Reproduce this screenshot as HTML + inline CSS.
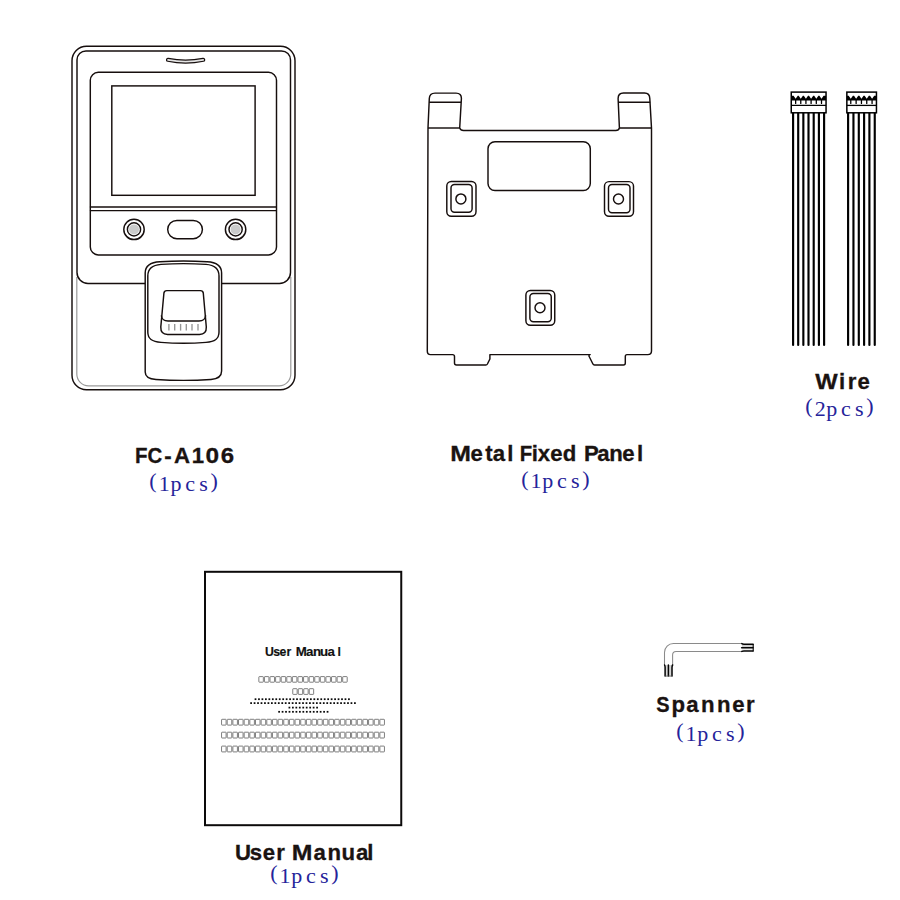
<!DOCTYPE html>
<html><head><meta charset="utf-8">
<style>
html,body{margin:0;padding:0;background:#fff;width:900px;height:900px;overflow:hidden}
svg{display:block}
.lbl{font-family:"Liberation Sans",sans-serif;font-weight:bold;font-size:22.2px;fill:#1a1311;stroke:#1a1311;stroke-width:0.3px;text-anchor:middle}
.qty{font-family:"Liberation Serif",serif;font-size:22px;fill:#25239a;text-anchor:middle}
</style></head><body>
<svg width="900" height="900" viewBox="0 0 900 900">
<rect x="0" y="0" width="900" height="900" fill="#fff"/>

<!-- ===== FC-A106 device ===== -->
<g fill="none" stroke="#160e0d" stroke-width="1.45">
  <rect x="72" y="46.2" width="223" height="343.6" rx="14.5"/>
  <path d="M76.8 277 V374 A11.8 11.8 0 0 0 88.6 385.9 H279 A11.8 11.8 0 0 0 290.8 374 V277" stroke="#9a9a9a" stroke-width="1.2"/>
  <path d="M145.2 283.5 H88 A11 11 0 0 1 77 272.5 V60 A9 9 0 0 1 86 50.9 H281.5 A9 9 0 0 1 290.5 60 V272.5 A11 11 0 0 1 279.5 283.5 H221.9"/>
  <path d="M168 59.8 Q185.5 63.4 203.2 59.8" stroke-width="4.2" stroke-linecap="round"/>
  <path d="M168 59.8 Q185.5 63.4 203.2 59.8" stroke="#e4e4e4" stroke-width="1.7" stroke-linecap="round"/>
  <rect x="90.3" y="72.3" width="186.2" height="182.6" rx="8"/>
  <rect x="111.8" y="85.9" width="143.3" height="109.4"/>
  <line x1="89.9" y1="207" x2="276.5" y2="207"/>
  <line x1="89.9" y1="210.6" x2="276.5" y2="210.6"/>
  <circle cx="134" cy="229.4" r="10.2"/>
  <circle cx="134" cy="229.4" r="6.6"/>
  <circle cx="134" cy="229.4" r="5" fill="#cacaca" stroke="none"/>
  <circle cx="235.6" cy="229.4" r="10.2"/>
  <circle cx="235.6" cy="229.4" r="6.6"/>
  <circle cx="235.6" cy="229.4" r="5" fill="#cacaca" stroke="none"/>
  <rect x="167.7" y="220.4" width="34.7" height="18.4" rx="9.2"/>
  <path d="M145.2 372 V273 C145.2 265 151 262.3 160 261.8 Q183.4 260.3 207 261.8 C216 262.3 221.6 265 221.6 273 V371 C221.6 376.5 218 379 211 379.5 Q183.4 381.2 156 379.5 C149 379 145.2 377 145.2 372 Z" fill="#fff"/>
  <path d="M147.8 332 V276 C147.8 268 153 265 161 264.4 Q183.4 262.8 206 264.4 C214 265 219 268 219 276 V332 C219 339 215 341.8 206 342.4 Q183.4 344.2 161 342.4 C152 341.8 147.8 339 147.8 332 Z"/>
  <path d="M166.8 290.6 H200.4 Q203 290.6 203.3 293.2 L206.3 327 Q206.6 334.4 199.5 334.4 H167.6 Q160.5 334.4 160.8 327 L163.9 293.2 Q164.2 290.6 166.8 290.6 Z"/>
  <path d="M161.3 315.5 Q162 321 168 321 H199 Q205 321 205.7 315.5"/>
  <g stroke="#959595" stroke-width="1.35">
    <line x1="168.9" y1="323.9" x2="168.9" y2="330.6"/>
    <line x1="174.7" y1="323.9" x2="174.7" y2="330.6"/>
    <line x1="180.6" y1="323.9" x2="180.6" y2="330.6"/>
    <line x1="186.3" y1="323.9" x2="186.3" y2="330.6"/>
    <line x1="192" y1="323.9" x2="192" y2="330.6"/>
    <line x1="198" y1="323.9" x2="198" y2="330.6"/>
  </g>
</g>

<!-- ===== Metal panel ===== -->
<g fill="none" stroke="#160e0d" stroke-width="1.45" stroke-linejoin="round">
  <path d="M428 128 L429.3 98.5 Q429.5 93.1 435 93.1 H456 Q461.5 93.1 461.4 98.5 L459.7 128 Q460.6 130.5 463.5 130.5 H615.8 Q618.8 130.5 619.4 128 L618.1 98.5 Q618.1 92.9 623.5 92.9 H644.5 Q649.7 92.9 649.8 98.5 L651.5 128 V351 Q651.4 354.6 647.8 354.6 H627 Q625.3 354.6 625.3 356.5 V363 Q625.3 364.9 623.5 364.9 H594.5 Q593.3 364.9 592.8 363.8 L588.9 356 Q589 354.6 590.2 354.6 H489.9 V359 L487.4 364 Q486.9 364.9 485.8 364.9 H456.5 Q454.5 364.9 454.5 363 V356.6 Q454.5 354.6 452.5 354.6 H430.5 Q427.3 354.6 427.3 351 Z"/>
  <line x1="429.1" y1="102.2" x2="461.1" y2="102.2"/>
  <line x1="428" y1="128" x2="459.7" y2="128"/>
  <line x1="618.3" y1="102.2" x2="650.2" y2="102.2"/>
  <line x1="619.4" y1="128" x2="651.5" y2="128"/>
  <rect x="488" y="141.8" width="102.3" height="48.7" rx="7"/>
  <rect x="446.8" y="181.5" width="29.2" height="34.75" rx="4.5"/>
  <rect x="451" y="184.4" width="21.1" height="27.9" rx="3.5"/>
  <circle cx="460.9" cy="198.9" r="5"/>
  <rect x="604.5" y="181.6" width="29" height="34.65" rx="4.5"/>
  <rect x="608.5" y="184.4" width="21.5" height="28.35" rx="3.5"/>
  <circle cx="618.5" cy="199" r="5"/>
  <rect x="525.9" y="290.5" width="28.85" height="34.75" rx="4.5"/>
  <rect x="529.9" y="293.4" width="21.35" height="28.35" rx="3.5"/>
  <circle cx="540" cy="307.8" r="5"/>
</g>

<!-- ===== Wires ===== -->
<!-- WIRES -->
<g stroke="#000" fill="none">
<line x1="793.1" y1="112" x2="793.1" y2="345" stroke-width="2.15" stroke-linecap="round"/>
<line x1="798.2" y1="112" x2="798.2" y2="345" stroke-width="2.15" stroke-linecap="round"/>
<line x1="803.35" y1="112" x2="803.35" y2="345" stroke-width="2.15" stroke-linecap="round"/>
<line x1="808.5" y1="112" x2="808.5" y2="345" stroke-width="2.15" stroke-linecap="round"/>
<line x1="813.7" y1="112" x2="813.7" y2="345" stroke-width="2.15" stroke-linecap="round"/>
<line x1="818.9" y1="112" x2="818.9" y2="345" stroke-width="2.15" stroke-linecap="round"/>
<line x1="824.1" y1="112" x2="824.1" y2="345" stroke-width="2.15" stroke-linecap="round"/>
<rect x="791.25" y="92.1" width="34.80" height="20.7" stroke-width="1.5" fill="#fff"/>
<polygon fill="#000" stroke="none" points="791.25,95.80 793.55,95.80 795.65,98.80 797.75,95.80 798.68,95.80 800.78,98.80 802.88,95.80 803.82,95.80 805.92,98.80 808.02,95.80 809.00,95.80 811.10,98.80 813.20,95.80 814.20,95.80 816.30,98.80 818.40,95.80 819.40,95.80 821.50,98.80 823.60,95.80 826.05,95.80 826.05,100.40 791.25,100.40"/>
<line x1="795.6500000000001" y1="99.8" x2="795.6500000000001" y2="103.4" stroke-width="1.3" stroke-linecap="round"/>
<line x1="800.7750000000001" y1="99.8" x2="800.7750000000001" y2="103.4" stroke-width="1.3" stroke-linecap="round"/>
<line x1="805.925" y1="99.8" x2="805.925" y2="103.4" stroke-width="1.3" stroke-linecap="round"/>
<line x1="811.1" y1="99.8" x2="811.1" y2="103.4" stroke-width="1.3" stroke-linecap="round"/>
<line x1="816.3" y1="99.8" x2="816.3" y2="103.4" stroke-width="1.3" stroke-linecap="round"/>
<line x1="821.5" y1="99.8" x2="821.5" y2="103.4" stroke-width="1.3" stroke-linecap="round"/>
<line x1="791.25" y1="105.4" x2="826.05" y2="105.4" stroke-width="1.3"/>
<line x1="848.1" y1="112" x2="848.1" y2="345" stroke-width="2.15" stroke-linecap="round"/>
<line x1="853.45" y1="112" x2="853.45" y2="345" stroke-width="2.15" stroke-linecap="round"/>
<line x1="858.8" y1="112" x2="858.8" y2="345" stroke-width="2.15" stroke-linecap="round"/>
<line x1="864.1" y1="112" x2="864.1" y2="345" stroke-width="2.15" stroke-linecap="round"/>
<line x1="869.4" y1="112" x2="869.4" y2="345" stroke-width="2.15" stroke-linecap="round"/>
<line x1="874.75" y1="112" x2="874.75" y2="345" stroke-width="2.15" stroke-linecap="round"/>
<rect x="846.85" y="92.1" width="29.60" height="20.7" stroke-width="1.5" fill="#fff"/>
<polygon fill="#000" stroke="none" points="846.85,95.80 848.68,95.80 850.78,98.80 852.88,95.80 854.02,95.80 856.12,98.80 858.23,95.80 859.35,95.80 861.45,98.80 863.55,95.80 864.65,95.80 866.75,98.80 868.85,95.80 869.98,95.80 872.08,98.80 874.18,95.80 876.45,95.80 876.45,100.40 846.85,100.40"/>
<line x1="850.7750000000001" y1="99.8" x2="850.7750000000001" y2="103.4" stroke-width="1.3" stroke-linecap="round"/>
<line x1="856.125" y1="99.8" x2="856.125" y2="103.4" stroke-width="1.3" stroke-linecap="round"/>
<line x1="861.45" y1="99.8" x2="861.45" y2="103.4" stroke-width="1.3" stroke-linecap="round"/>
<line x1="866.75" y1="99.8" x2="866.75" y2="103.4" stroke-width="1.3" stroke-linecap="round"/>
<line x1="872.075" y1="99.8" x2="872.075" y2="103.4" stroke-width="1.3" stroke-linecap="round"/>
<line x1="846.85" y1="105.4" x2="876.45" y2="105.4" stroke-width="1.3"/>
</g>
<!-- /WIRES -->

<!-- ===== Booklet ===== -->
<!-- BOOK -->
<rect x="205" y="571.8" width="196.25" height="253.4" fill="none" stroke="#0c0a0a" stroke-width="2"/>
<text transform="translate(269.4 655.6) scale(1.0 1)" text-anchor="middle" font-family="Liberation Sans" font-weight="bold" font-size="12.3" fill="#111" stroke="#111" stroke-width="0.15">U</text>
<text transform="translate(276.7 655.6) scale(1.0 1)" text-anchor="middle" font-family="Liberation Sans" font-weight="bold" font-size="12.3" fill="#111" stroke="#111" stroke-width="0.15">s</text>
<text transform="translate(283 655.6) scale(1.0 1)" text-anchor="middle" font-family="Liberation Sans" font-weight="bold" font-size="12.3" fill="#111" stroke="#111" stroke-width="0.15">e</text>
<text transform="translate(288.8 655.6) scale(1.0 1)" text-anchor="middle" font-family="Liberation Sans" font-weight="bold" font-size="12.3" fill="#111" stroke="#111" stroke-width="0.15">r</text>
<text transform="translate(301.2 655.6) scale(1.08 1)" text-anchor="middle" font-family="Liberation Sans" font-weight="bold" font-size="12.3" fill="#111" stroke="#111" stroke-width="0.15">M</text>
<text transform="translate(309.6 655.6) scale(1.08 1)" text-anchor="middle" font-family="Liberation Sans" font-weight="bold" font-size="12.3" fill="#111" stroke="#111" stroke-width="0.15">a</text>
<text transform="translate(317.1 655.6) scale(1.08 1)" text-anchor="middle" font-family="Liberation Sans" font-weight="bold" font-size="12.3" fill="#111" stroke="#111" stroke-width="0.15">n</text>
<text transform="translate(324.1 655.6) scale(1.08 1)" text-anchor="middle" font-family="Liberation Sans" font-weight="bold" font-size="12.3" fill="#111" stroke="#111" stroke-width="0.15">u</text>
<text transform="translate(331.1 655.6) scale(1.08 1)" text-anchor="middle" font-family="Liberation Sans" font-weight="bold" font-size="12.3" fill="#111" stroke="#111" stroke-width="0.15">a</text>
<text transform="translate(339.1 655.6) scale(1.0 1)" text-anchor="middle" font-family="Liberation Sans" font-weight="bold" font-size="12.3" fill="#111" stroke="#111" stroke-width="0.15">l</text>
<g fill="none" stroke="#707070" stroke-width="0.9"><rect x="258.85" y="676.60" width="4.49" height="5.60" rx="0.5"/><rect x="264.44" y="676.60" width="4.49" height="5.60" rx="0.5"/><rect x="270.03" y="676.60" width="4.49" height="5.60" rx="0.5"/><rect x="275.62" y="676.60" width="4.49" height="5.60" rx="0.5"/><rect x="281.21" y="676.60" width="4.49" height="5.60" rx="0.5"/><rect x="286.80" y="676.60" width="4.49" height="5.60" rx="0.5"/><rect x="292.39" y="676.60" width="4.49" height="5.60" rx="0.5"/><rect x="297.98" y="676.60" width="4.49" height="5.60" rx="0.5"/><rect x="303.57" y="676.60" width="4.49" height="5.60" rx="0.5"/><rect x="309.16" y="676.60" width="4.49" height="5.60" rx="0.5"/><rect x="314.75" y="676.60" width="4.49" height="5.60" rx="0.5"/><rect x="320.34" y="676.60" width="4.49" height="5.60" rx="0.5"/><rect x="325.93" y="676.60" width="4.49" height="5.60" rx="0.5"/><rect x="331.52" y="676.60" width="4.49" height="5.60" rx="0.5"/><rect x="337.11" y="676.60" width="4.49" height="5.60" rx="0.5"/><rect x="342.70" y="676.60" width="4.49" height="5.60" rx="0.5"/><rect x="292.75" y="688.70" width="4.40" height="5.70" rx="0.5"/><rect x="298.25" y="688.70" width="4.40" height="5.70" rx="0.5"/><rect x="303.75" y="688.70" width="4.40" height="5.70" rx="0.5"/><rect x="309.25" y="688.70" width="4.40" height="5.70" rx="0.5"/><rect x="221.55" y="719.30" width="4.55" height="5.80" rx="0.5"/><rect x="227.21" y="719.30" width="4.55" height="5.80" rx="0.5"/><rect x="232.86" y="719.30" width="4.55" height="5.80" rx="0.5"/><rect x="238.52" y="719.30" width="4.55" height="5.80" rx="0.5"/><rect x="244.17" y="719.30" width="4.55" height="5.80" rx="0.5"/><rect x="249.83" y="719.30" width="4.55" height="5.80" rx="0.5"/><rect x="255.48" y="719.30" width="4.55" height="5.80" rx="0.5"/><rect x="261.13" y="719.30" width="4.55" height="5.80" rx="0.5"/><rect x="266.79" y="719.30" width="4.55" height="5.80" rx="0.5"/><rect x="272.44" y="719.30" width="4.55" height="5.80" rx="0.5"/><rect x="278.10" y="719.30" width="4.55" height="5.80" rx="0.5"/><rect x="283.75" y="719.30" width="4.55" height="5.80" rx="0.5"/><rect x="289.41" y="719.30" width="4.55" height="5.80" rx="0.5"/><rect x="295.06" y="719.30" width="4.55" height="5.80" rx="0.5"/><rect x="300.72" y="719.30" width="4.55" height="5.80" rx="0.5"/><rect x="306.38" y="719.30" width="4.55" height="5.80" rx="0.5"/><rect x="312.03" y="719.30" width="4.55" height="5.80" rx="0.5"/><rect x="317.69" y="719.30" width="4.55" height="5.80" rx="0.5"/><rect x="323.34" y="719.30" width="4.55" height="5.80" rx="0.5"/><rect x="329.00" y="719.30" width="4.55" height="5.80" rx="0.5"/><rect x="334.65" y="719.30" width="4.55" height="5.80" rx="0.5"/><rect x="340.31" y="719.30" width="4.55" height="5.80" rx="0.5"/><rect x="345.96" y="719.30" width="4.55" height="5.80" rx="0.5"/><rect x="351.62" y="719.30" width="4.55" height="5.80" rx="0.5"/><rect x="357.27" y="719.30" width="4.55" height="5.80" rx="0.5"/><rect x="362.93" y="719.30" width="4.55" height="5.80" rx="0.5"/><rect x="368.58" y="719.30" width="4.55" height="5.80" rx="0.5"/><rect x="374.24" y="719.30" width="4.55" height="5.80" rx="0.5"/><rect x="379.89" y="719.30" width="4.55" height="5.80" rx="0.5"/><rect x="221.55" y="732.20" width="4.55" height="5.80" rx="0.5"/><rect x="227.21" y="732.20" width="4.55" height="5.80" rx="0.5"/><rect x="232.86" y="732.20" width="4.55" height="5.80" rx="0.5"/><rect x="238.52" y="732.20" width="4.55" height="5.80" rx="0.5"/><rect x="244.17" y="732.20" width="4.55" height="5.80" rx="0.5"/><rect x="249.83" y="732.20" width="4.55" height="5.80" rx="0.5"/><rect x="255.48" y="732.20" width="4.55" height="5.80" rx="0.5"/><rect x="261.13" y="732.20" width="4.55" height="5.80" rx="0.5"/><rect x="266.79" y="732.20" width="4.55" height="5.80" rx="0.5"/><rect x="272.44" y="732.20" width="4.55" height="5.80" rx="0.5"/><rect x="278.10" y="732.20" width="4.55" height="5.80" rx="0.5"/><rect x="283.75" y="732.20" width="4.55" height="5.80" rx="0.5"/><rect x="289.41" y="732.20" width="4.55" height="5.80" rx="0.5"/><rect x="295.06" y="732.20" width="4.55" height="5.80" rx="0.5"/><rect x="300.72" y="732.20" width="4.55" height="5.80" rx="0.5"/><rect x="306.38" y="732.20" width="4.55" height="5.80" rx="0.5"/><rect x="312.03" y="732.20" width="4.55" height="5.80" rx="0.5"/><rect x="317.69" y="732.20" width="4.55" height="5.80" rx="0.5"/><rect x="323.34" y="732.20" width="4.55" height="5.80" rx="0.5"/><rect x="329.00" y="732.20" width="4.55" height="5.80" rx="0.5"/><rect x="334.65" y="732.20" width="4.55" height="5.80" rx="0.5"/><rect x="340.31" y="732.20" width="4.55" height="5.80" rx="0.5"/><rect x="345.96" y="732.20" width="4.55" height="5.80" rx="0.5"/><rect x="351.62" y="732.20" width="4.55" height="5.80" rx="0.5"/><rect x="357.27" y="732.20" width="4.55" height="5.80" rx="0.5"/><rect x="362.93" y="732.20" width="4.55" height="5.80" rx="0.5"/><rect x="368.58" y="732.20" width="4.55" height="5.80" rx="0.5"/><rect x="374.24" y="732.20" width="4.55" height="5.80" rx="0.5"/><rect x="379.89" y="732.20" width="4.55" height="5.80" rx="0.5"/><rect x="221.55" y="746.10" width="4.55" height="5.80" rx="0.5"/><rect x="227.21" y="746.10" width="4.55" height="5.80" rx="0.5"/><rect x="232.86" y="746.10" width="4.55" height="5.80" rx="0.5"/><rect x="238.52" y="746.10" width="4.55" height="5.80" rx="0.5"/><rect x="244.17" y="746.10" width="4.55" height="5.80" rx="0.5"/><rect x="249.83" y="746.10" width="4.55" height="5.80" rx="0.5"/><rect x="255.48" y="746.10" width="4.55" height="5.80" rx="0.5"/><rect x="261.13" y="746.10" width="4.55" height="5.80" rx="0.5"/><rect x="266.79" y="746.10" width="4.55" height="5.80" rx="0.5"/><rect x="272.44" y="746.10" width="4.55" height="5.80" rx="0.5"/><rect x="278.10" y="746.10" width="4.55" height="5.80" rx="0.5"/><rect x="283.75" y="746.10" width="4.55" height="5.80" rx="0.5"/><rect x="289.41" y="746.10" width="4.55" height="5.80" rx="0.5"/><rect x="295.06" y="746.10" width="4.55" height="5.80" rx="0.5"/><rect x="300.72" y="746.10" width="4.55" height="5.80" rx="0.5"/><rect x="306.38" y="746.10" width="4.55" height="5.80" rx="0.5"/><rect x="312.03" y="746.10" width="4.55" height="5.80" rx="0.5"/><rect x="317.69" y="746.10" width="4.55" height="5.80" rx="0.5"/><rect x="323.34" y="746.10" width="4.55" height="5.80" rx="0.5"/><rect x="329.00" y="746.10" width="4.55" height="5.80" rx="0.5"/><rect x="334.65" y="746.10" width="4.55" height="5.80" rx="0.5"/><rect x="340.31" y="746.10" width="4.55" height="5.80" rx="0.5"/><rect x="345.96" y="746.10" width="4.55" height="5.80" rx="0.5"/><rect x="351.62" y="746.10" width="4.55" height="5.80" rx="0.5"/><rect x="357.27" y="746.10" width="4.55" height="5.80" rx="0.5"/><rect x="362.93" y="746.10" width="4.55" height="5.80" rx="0.5"/><rect x="368.58" y="746.10" width="4.55" height="5.80" rx="0.5"/><rect x="374.24" y="746.10" width="4.55" height="5.80" rx="0.5"/><rect x="379.89" y="746.10" width="4.55" height="5.80" rx="0.5"/></g>
<g fill="#0a0a0a"><rect x="254.63" y="698.33" width="1.75" height="1.75"/><rect x="258.09" y="698.33" width="1.75" height="1.75"/><rect x="261.55" y="698.33" width="1.75" height="1.75"/><rect x="265.01" y="698.33" width="1.75" height="1.75"/><rect x="268.47" y="698.33" width="1.75" height="1.75"/><rect x="271.93" y="698.33" width="1.75" height="1.75"/><rect x="275.39" y="698.33" width="1.75" height="1.75"/><rect x="278.85" y="698.33" width="1.75" height="1.75"/><rect x="282.31" y="698.33" width="1.75" height="1.75"/><rect x="285.77" y="698.33" width="1.75" height="1.75"/><rect x="289.23" y="698.33" width="1.75" height="1.75"/><rect x="292.69" y="698.33" width="1.75" height="1.75"/><rect x="296.15" y="698.33" width="1.75" height="1.75"/><rect x="299.61" y="698.33" width="1.75" height="1.75"/><rect x="303.07" y="698.33" width="1.75" height="1.75"/><rect x="306.53" y="698.33" width="1.75" height="1.75"/><rect x="309.99" y="698.33" width="1.75" height="1.75"/><rect x="313.45" y="698.33" width="1.75" height="1.75"/><rect x="316.91" y="698.33" width="1.75" height="1.75"/><rect x="320.37" y="698.33" width="1.75" height="1.75"/><rect x="323.83" y="698.33" width="1.75" height="1.75"/><rect x="327.29" y="698.33" width="1.75" height="1.75"/><rect x="330.75" y="698.33" width="1.75" height="1.75"/><rect x="334.21" y="698.33" width="1.75" height="1.75"/><rect x="337.67" y="698.33" width="1.75" height="1.75"/><rect x="341.13" y="698.33" width="1.75" height="1.75"/><rect x="344.59" y="698.33" width="1.75" height="1.75"/><rect x="348.05" y="698.33" width="1.75" height="1.75"/><rect x="250.23" y="702.23" width="1.75" height="1.75"/><rect x="253.69" y="702.23" width="1.75" height="1.75"/><rect x="257.15" y="702.23" width="1.75" height="1.75"/><rect x="260.61" y="702.23" width="1.75" height="1.75"/><rect x="264.07" y="702.23" width="1.75" height="1.75"/><rect x="267.53" y="702.23" width="1.75" height="1.75"/><rect x="270.99" y="702.23" width="1.75" height="1.75"/><rect x="274.45" y="702.23" width="1.75" height="1.75"/><rect x="277.91" y="702.23" width="1.75" height="1.75"/><rect x="281.37" y="702.23" width="1.75" height="1.75"/><rect x="284.83" y="702.23" width="1.75" height="1.75"/><rect x="288.29" y="702.23" width="1.75" height="1.75"/><rect x="291.75" y="702.23" width="1.75" height="1.75"/><rect x="295.21" y="702.23" width="1.75" height="1.75"/><rect x="298.67" y="702.23" width="1.75" height="1.75"/><rect x="302.13" y="702.23" width="1.75" height="1.75"/><rect x="305.59" y="702.23" width="1.75" height="1.75"/><rect x="309.05" y="702.23" width="1.75" height="1.75"/><rect x="312.51" y="702.23" width="1.75" height="1.75"/><rect x="315.97" y="702.23" width="1.75" height="1.75"/><rect x="319.43" y="702.23" width="1.75" height="1.75"/><rect x="322.89" y="702.23" width="1.75" height="1.75"/><rect x="326.35" y="702.23" width="1.75" height="1.75"/><rect x="329.81" y="702.23" width="1.75" height="1.75"/><rect x="333.27" y="702.23" width="1.75" height="1.75"/><rect x="336.73" y="702.23" width="1.75" height="1.75"/><rect x="340.19" y="702.23" width="1.75" height="1.75"/><rect x="343.65" y="702.23" width="1.75" height="1.75"/><rect x="347.11" y="702.23" width="1.75" height="1.75"/><rect x="350.57" y="702.23" width="1.75" height="1.75"/><rect x="354.03" y="702.23" width="1.75" height="1.75"/><rect x="288.53" y="706.73" width="1.75" height="1.75"/><rect x="291.99" y="706.73" width="1.75" height="1.75"/><rect x="295.45" y="706.73" width="1.75" height="1.75"/><rect x="298.91" y="706.73" width="1.75" height="1.75"/><rect x="302.37" y="706.73" width="1.75" height="1.75"/><rect x="305.83" y="706.73" width="1.75" height="1.75"/><rect x="309.29" y="706.73" width="1.75" height="1.75"/><rect x="312.75" y="706.73" width="1.75" height="1.75"/><rect x="316.21" y="706.73" width="1.75" height="1.75"/><rect x="278.23" y="710.93" width="1.75" height="1.75"/><rect x="281.69" y="710.93" width="1.75" height="1.75"/><rect x="285.15" y="710.93" width="1.75" height="1.75"/><rect x="288.61" y="710.93" width="1.75" height="1.75"/><rect x="292.07" y="710.93" width="1.75" height="1.75"/><rect x="295.53" y="710.93" width="1.75" height="1.75"/><rect x="298.99" y="710.93" width="1.75" height="1.75"/><rect x="302.45" y="710.93" width="1.75" height="1.75"/><rect x="305.91" y="710.93" width="1.75" height="1.75"/><rect x="309.37" y="710.93" width="1.75" height="1.75"/><rect x="312.83" y="710.93" width="1.75" height="1.75"/><rect x="316.29" y="710.93" width="1.75" height="1.75"/><rect x="319.75" y="710.93" width="1.75" height="1.75"/><rect x="323.21" y="710.93" width="1.75" height="1.75"/><rect x="326.67" y="710.93" width="1.75" height="1.75"/></g>
<!-- /BOOK -->

<!-- ===== Spanner ===== -->
<rect x="742" y="644.2" width="11.2" height="3.5" fill="#cfcfcf"/>
<rect x="742" y="647.7" width="11.2" height="3.2" fill="#ececec"/>
<rect x="665" y="665" width="7.2" height="11.2" fill="#d6d6d6"/>
<g fill="none" stroke="#8a8a8a" stroke-width="1.05">
  <path d="M742 643.4 H673.5 A9 9 0 0 0 664.5 652.4 V665.5"/>
  <path d="M672.6 665.5 V654.9 A3.5 3.5 0 0 1 676.1 651.4 H742"/>
</g>
<g stroke="#050505" stroke-width="1.5" stroke-linecap="round" fill="none">
  <path d="M741.8 643.6 Q742.6 644.2 744 644.2 H753"/>
  <line x1="741.6" y1="647.7" x2="753" y2="647.7"/>
  <path d="M741.8 651.4 Q742.6 650.9 744 650.9 H753"/>
  <line x1="753.2" y1="644.2" x2="753.2" y2="650.9" stroke-width="1.1"/>
  <path d="M664.6 665 Q665.1 666 665.1 667.5 V676"/>
  <line x1="668.4" y1="665" x2="668.4" y2="676"/>
  <path d="M672.6 665 Q672 666 672 667.5 V676"/>
  <line x1="665.1" y1="676.1" x2="672" y2="676.1" stroke-width="0.8" stroke="#555"/>
</g>

<!-- LABELS -->
<text class="lbl" transform="translate(141.2 463.3) scale(0.92 1)">F</text>
<text class="lbl" transform="translate(155.0 463.3) scale(0.92 1)">C</text>
<text class="lbl" x="167.9" y="463.3">-</text>
<text class="lbl" x="182.0" y="463.3">A</text>
<text class="lbl" x="197.9" y="463.3">1</text>
<text class="lbl" transform="translate(212.2 463.3) scale(1.1 1)">0</text>
<text class="lbl" transform="translate(227.5 463.3) scale(1.08 1)">6</text>
<text class="lbl" transform="translate(460.5 460.7) scale(1.12 1)">M</text>
<text class="lbl" x="476.7" y="460.7">e</text>
<text class="lbl" x="489.0" y="460.7">t</text>
<text class="lbl" x="499.0" y="460.7">a</text>
<text class="lbl" x="510.3" y="460.7">l</text>
<text class="lbl" transform="translate(526.0 460.7) scale(0.92 1)">F</text>
<text class="lbl" x="534.8" y="460.7">i</text>
<text class="lbl" x="543.8" y="460.7">x</text>
<text class="lbl" x="556.3" y="460.7">e</text>
<text class="lbl" x="569.5" y="460.7">d</text>
<text class="lbl" x="591.5" y="460.7">P</text>
<text class="lbl" x="603.3" y="460.7">a</text>
<text class="lbl" x="616.0" y="460.7">n</text>
<text class="lbl" x="628.5" y="460.7">e</text>
<text class="lbl" x="640.2" y="460.7">l</text>
<text class="lbl" transform="translate(826.4 389.2) scale(1.07 1)">W</text>
<text class="lbl" x="842.2" y="389.2">i</text>
<text class="lbl" x="852.0" y="389.2">r</text>
<text class="lbl" x="863.7" y="389.2">e</text>
<text class="lbl" transform="translate(662.8 712.4) scale(0.9 1)">S</text>
<text class="lbl" x="678.4" y="712.4">p</text>
<text class="lbl" x="692.5" y="712.4">a</text>
<text class="lbl" x="707.8" y="712.4">n</text>
<text class="lbl" x="723.7" y="712.4">n</text>
<text class="lbl" x="738.3" y="712.4">e</text>
<text class="lbl" x="750.3" y="712.4">r</text>
<text class="lbl" x="243.0" y="859.5">U</text>
<text class="lbl" x="255.8" y="859.5">s</text>
<text class="lbl" x="268.8" y="859.5">e</text>
<text class="lbl" x="280.5" y="859.5">r</text>
<text class="lbl" transform="translate(302.1 859.5) scale(1.12 1)">M</text>
<text class="lbl" x="319.6" y="859.5">a</text>
<text class="lbl" x="334.2" y="859.5">n</text>
<text class="lbl" x="348.4" y="859.5">u</text>
<text class="lbl" x="362.1" y="859.5">a</text>
<text class="lbl" x="370.4" y="859.5">l</text>
<text class="qty" x="153.0 214.1" y="488.2">()</text>
<text class="qty" x="164.3 175.9 190.1 203.5" y="491.0">1pcs</text>
<text class="qty" x="524.8 585.9" y="485.6">()</text>
<text class="qty" x="536.1 547.7 561.9 575.3" y="488.4">1pcs</text>
<text class="qty" x="808.9 870.0" y="412.7">()</text>
<text class="qty" x="820.2 831.8 846.0 859.4" y="415.5">2pcs</text>
<text class="qty" x="679.8 740.9" y="738.2">()</text>
<text class="qty" x="691.1 702.7 716.9 730.3" y="741.0">1pcs</text>
<text class="qty" x="273.8 334.9" y="880.2">()</text>
<text class="qty" x="285.1 296.7 310.9 324.3" y="883.0">1pcs</text>
<!-- /LABELS -->
</svg>
</body></html>
